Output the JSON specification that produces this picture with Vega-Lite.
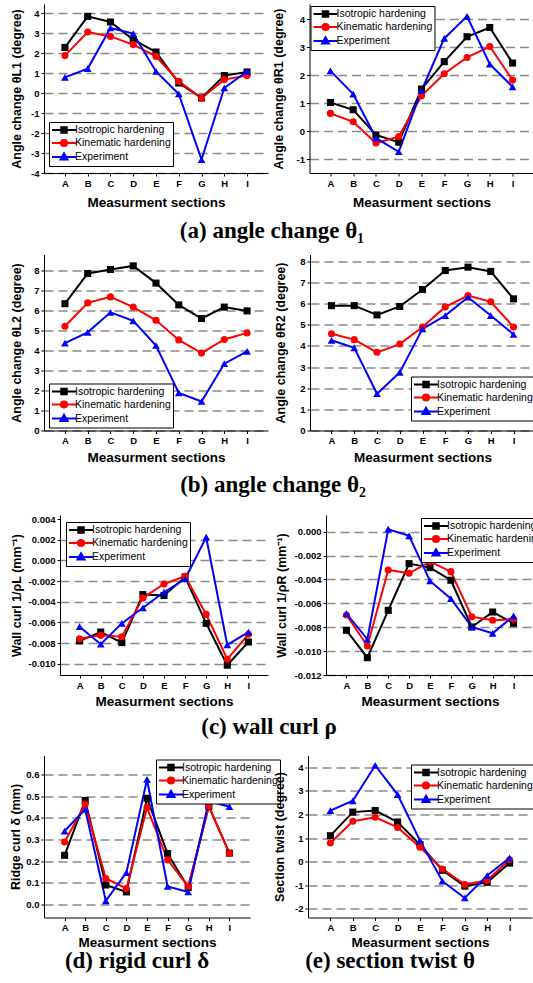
{
"$schema": "https://vega.github.io/schema/vega-lite/v6.json",
"background": "white",
"padding": {"left": 9, "top": 4, "right": 0, "bottom": 0},
"data": {"values": [
{"p":"a1","s":"Isotropic hardening","x":"A","v":2.28},{"p":"a1","s":"Isotropic hardening","x":"B","v":3.83},{"p":"a1","s":"Isotropic hardening","x":"C","v":3.55},{"p":"a1","s":"Isotropic hardening","x":"D","v":2.67},{"p":"a1","s":"Isotropic hardening","x":"E","v":2.05},{"p":"a1","s":"Isotropic hardening","x":"F","v":0.5},{"p":"a1","s":"Isotropic hardening","x":"G","v":-0.25},{"p":"a1","s":"Isotropic hardening","x":"H","v":0.87},{"p":"a1","s":"Isotropic hardening","x":"I","v":1.05},
{"p":"a1","s":"Kinematic hardening","x":"A","v":1.87},{"p":"a1","s":"Kinematic hardening","x":"B","v":3.05},{"p":"a1","s":"Kinematic hardening","x":"C","v":2.83},{"p":"a1","s":"Kinematic hardening","x":"D","v":2.42},{"p":"a1","s":"Kinematic hardening","x":"E","v":1.83},{"p":"a1","s":"Kinematic hardening","x":"F","v":0.58},{"p":"a1","s":"Kinematic hardening","x":"G","v":-0.25},{"p":"a1","s":"Kinematic hardening","x":"H","v":0.67},{"p":"a1","s":"Kinematic hardening","x":"I","v":0.87},
{"p":"a1","s":"Experiment","x":"A","v":0.78},{"p":"a1","s":"Experiment","x":"B","v":1.22},{"p":"a1","s":"Experiment","x":"C","v":3.25},{"p":"a1","s":"Experiment","x":"D","v":2.97},{"p":"a1","s":"Experiment","x":"E","v":1.08},{"p":"a1","s":"Experiment","x":"F","v":-0.05},{"p":"a1","s":"Experiment","x":"G","v":-3.33},{"p":"a1","s":"Experiment","x":"H","v":0.25},{"p":"a1","s":"Experiment","x":"I","v":1.08},
{"p":"a2","s":"Isotropic hardening","x":"A","v":1.02},{"p":"a2","s":"Isotropic hardening","x":"B","v":0.76},{"p":"a2","s":"Isotropic hardening","x":"C","v":-0.14},{"p":"a2","s":"Isotropic hardening","x":"D","v":-0.4},{"p":"a2","s":"Isotropic hardening","x":"E","v":1.5},{"p":"a2","s":"Isotropic hardening","x":"F","v":2.48},{"p":"a2","s":"Isotropic hardening","x":"G","v":3.37},{"p":"a2","s":"Isotropic hardening","x":"H","v":3.7},{"p":"a2","s":"Isotropic hardening","x":"I","v":2.43},
{"p":"a2","s":"Kinematic hardening","x":"A","v":0.63},{"p":"a2","s":"Kinematic hardening","x":"B","v":0.33},{"p":"a2","s":"Kinematic hardening","x":"C","v":-0.43},{"p":"a2","s":"Kinematic hardening","x":"D","v":-0.2},{"p":"a2","s":"Kinematic hardening","x":"E","v":1.26},{"p":"a2","s":"Kinematic hardening","x":"F","v":2.05},{"p":"a2","s":"Kinematic hardening","x":"G","v":2.63},{"p":"a2","s":"Kinematic hardening","x":"H","v":3.02},{"p":"a2","s":"Kinematic hardening","x":"I","v":1.82},
{"p":"a2","s":"Experiment","x":"A","v":2.15},{"p":"a2","s":"Experiment","x":"B","v":1.32},{"p":"a2","s":"Experiment","x":"C","v":-0.25},{"p":"a2","s":"Experiment","x":"D","v":-0.74},{"p":"a2","s":"Experiment","x":"E","v":1.44},{"p":"a2","s":"Experiment","x":"F","v":3.31},{"p":"a2","s":"Experiment","x":"G","v":4.1},{"p":"a2","s":"Experiment","x":"H","v":2.39},{"p":"a2","s":"Experiment","x":"I","v":1.58},
{"p":"b1","s":"Isotropic hardening","x":"A","v":6.34},{"p":"b1","s":"Isotropic hardening","x":"B","v":7.85},{"p":"b1","s":"Isotropic hardening","x":"C","v":8.05},{"p":"b1","s":"Isotropic hardening","x":"D","v":8.23},{"p":"b1","s":"Isotropic hardening","x":"E","v":7.37},{"p":"b1","s":"Isotropic hardening","x":"F","v":6.28},{"p":"b1","s":"Isotropic hardening","x":"G","v":5.6},{"p":"b1","s":"Isotropic hardening","x":"H","v":6.17},{"p":"b1","s":"Isotropic hardening","x":"I","v":5.98},
{"p":"b1","s":"Kinematic hardening","x":"A","v":5.21},{"p":"b1","s":"Kinematic hardening","x":"B","v":6.38},{"p":"b1","s":"Kinematic hardening","x":"C","v":6.68},{"p":"b1","s":"Kinematic hardening","x":"D","v":6.17},{"p":"b1","s":"Kinematic hardening","x":"E","v":5.51},{"p":"b1","s":"Kinematic hardening","x":"F","v":4.53},{"p":"b1","s":"Kinematic hardening","x":"G","v":3.87},{"p":"b1","s":"Kinematic hardening","x":"H","v":4.55},{"p":"b1","s":"Kinematic hardening","x":"I","v":4.88},
{"p":"b1","s":"Experiment","x":"A","v":4.37},{"p":"b1","s":"Experiment","x":"B","v":4.91},{"p":"b1","s":"Experiment","x":"C","v":5.91},{"p":"b1","s":"Experiment","x":"D","v":5.48},{"p":"b1","s":"Experiment","x":"E","v":4.25},{"p":"b1","s":"Experiment","x":"F","v":1.88},{"p":"b1","s":"Experiment","x":"G","v":1.45},{"p":"b1","s":"Experiment","x":"H","v":3.34},{"p":"b1","s":"Experiment","x":"I","v":3.96},
{"p":"b2","s":"Isotropic hardening","x":"A","v":5.91},{"p":"b2","s":"Isotropic hardening","x":"B","v":5.91},{"p":"b2","s":"Isotropic hardening","x":"C","v":5.47},{"p":"b2","s":"Isotropic hardening","x":"D","v":5.87},{"p":"b2","s":"Isotropic hardening","x":"E","v":6.67},{"p":"b2","s":"Isotropic hardening","x":"F","v":7.57},{"p":"b2","s":"Isotropic hardening","x":"G","v":7.73},{"p":"b2","s":"Isotropic hardening","x":"H","v":7.53},{"p":"b2","s":"Isotropic hardening","x":"I","v":6.23},
{"p":"b2","s":"Kinematic hardening","x":"A","v":4.58},{"p":"b2","s":"Kinematic hardening","x":"B","v":4.3},{"p":"b2","s":"Kinematic hardening","x":"C","v":3.7},{"p":"b2","s":"Kinematic hardening","x":"D","v":4.09},{"p":"b2","s":"Kinematic hardening","x":"E","v":4.9},{"p":"b2","s":"Kinematic hardening","x":"F","v":5.85},{"p":"b2","s":"Kinematic hardening","x":"G","v":6.39},{"p":"b2","s":"Kinematic hardening","x":"H","v":6.09},{"p":"b2","s":"Kinematic hardening","x":"I","v":4.9},
{"p":"b2","s":"Experiment","x":"A","v":4.27},{"p":"b2","s":"Experiment","x":"B","v":3.91},{"p":"b2","s":"Experiment","x":"C","v":1.74},{"p":"b2","s":"Experiment","x":"D","v":2.75},{"p":"b2","s":"Experiment","x":"E","v":4.81},{"p":"b2","s":"Experiment","x":"F","v":5.44},{"p":"b2","s":"Experiment","x":"G","v":6.31},{"p":"b2","s":"Experiment","x":"H","v":5.44},{"p":"b2","s":"Experiment","x":"I","v":4.55},
{"p":"c1","s":"Isotropic hardening","x":"A","v":-0.0078},{"p":"c1","s":"Isotropic hardening","x":"B","v":-0.00694},{"p":"c1","s":"Isotropic hardening","x":"C","v":-0.00796},{"p":"c1","s":"Isotropic hardening","x":"D","v":-0.00331},{"p":"c1","s":"Isotropic hardening","x":"E","v":-0.0034},{"p":"c1","s":"Isotropic hardening","x":"F","v":-0.00161},{"p":"c1","s":"Isotropic hardening","x":"G","v":-0.0061},{"p":"c1","s":"Isotropic hardening","x":"H","v":-0.01015},{"p":"c1","s":"Isotropic hardening","x":"I","v":-0.0079},
{"p":"c1","s":"Kinematic hardening","x":"A","v":-0.00758},{"p":"c1","s":"Kinematic hardening","x":"B","v":-0.00726},{"p":"c1","s":"Kinematic hardening","x":"C","v":-0.00739},{"p":"c1","s":"Kinematic hardening","x":"D","v":-0.00363},{"p":"c1","s":"Kinematic hardening","x":"E","v":-0.00228},{"p":"c1","s":"Kinematic hardening","x":"F","v":-0.00154},{"p":"c1","s":"Kinematic hardening","x":"G","v":-0.00523},{"p":"c1","s":"Kinematic hardening","x":"H","v":-0.00957},{"p":"c1","s":"Kinematic hardening","x":"I","v":-0.00716},
{"p":"c1","s":"Experiment","x":"A","v":-0.00642},{"p":"c1","s":"Experiment","x":"B","v":-0.00812},{"p":"c1","s":"Experiment","x":"C","v":-0.0061},{"p":"c1","s":"Experiment","x":"D","v":-0.00459},{"p":"c1","s":"Experiment","x":"E","v":-0.00308},{"p":"c1","s":"Experiment","x":"F","v":-0.0018},{"p":"c1","s":"Experiment","x":"G","v":0.00225},{"p":"c1","s":"Experiment","x":"H","v":-0.00819},{"p":"c1","s":"Experiment","x":"I","v":-0.00694},
{"p":"c2","s":"Isotropic hardening","x":"A","v":-0.00826},{"p":"c2","s":"Isotropic hardening","x":"B","v":-0.01055},{"p":"c2","s":"Isotropic hardening","x":"C","v":-0.00659},{"p":"c2","s":"Isotropic hardening","x":"D","v":-0.00268},{"p":"c2","s":"Isotropic hardening","x":"E","v":-0.00301},{"p":"c2","s":"Isotropic hardening","x":"F","v":-0.00407},{"p":"c2","s":"Isotropic hardening","x":"G","v":-0.00798},{"p":"c2","s":"Isotropic hardening","x":"H","v":-0.00673},{"p":"c2","s":"Isotropic hardening","x":"I","v":-0.00767},
{"p":"c2","s":"Kinematic hardening","x":"A","v":-0.00698},{"p":"c2","s":"Kinematic hardening","x":"B","v":-0.00957},{"p":"c2","s":"Kinematic hardening","x":"C","v":-0.00321},{"p":"c2","s":"Kinematic hardening","x":"D","v":-0.00349},{"p":"c2","s":"Kinematic hardening","x":"E","v":-0.00251},{"p":"c2","s":"Kinematic hardening","x":"F","v":-0.00335},{"p":"c2","s":"Kinematic hardening","x":"G","v":-0.00712},{"p":"c2","s":"Kinematic hardening","x":"H","v":-0.00742},{"p":"c2","s":"Kinematic hardening","x":"I","v":-0.00734},
{"p":"c2","s":"Experiment","x":"A","v":-0.00687},{"p":"c2","s":"Experiment","x":"B","v":-0.00901},{"p":"c2","s":"Experiment","x":"C","v":0.0002},{"p":"c2","s":"Experiment","x":"D","v":-0.00036},{"p":"c2","s":"Experiment","x":"E","v":-0.00413},{"p":"c2","s":"Experiment","x":"F","v":-0.00561},{"p":"c2","s":"Experiment","x":"G","v":-0.00798},{"p":"c2","s":"Experiment","x":"H","v":-0.00851},{"p":"c2","s":"Experiment","x":"I","v":-0.00706},
{"p":"d","s":"Isotropic hardening","x":"A","v":0.227},{"p":"d","s":"Isotropic hardening","x":"B","v":0.48},{"p":"d","s":"Isotropic hardening","x":"C","v":0.09},{"p":"d","s":"Isotropic hardening","x":"D","v":0.058},{"p":"d","s":"Isotropic hardening","x":"E","v":0.49},{"p":"d","s":"Isotropic hardening","x":"F","v":0.235},{"p":"d","s":"Isotropic hardening","x":"G","v":0.078},{"p":"d","s":"Isotropic hardening","x":"H","v":0.453},{"p":"d","s":"Isotropic hardening","x":"I","v":0.237},
{"p":"d","s":"Kinematic hardening","x":"A","v":0.288},{"p":"d","s":"Kinematic hardening","x":"B","v":0.462},{"p":"d","s":"Kinematic hardening","x":"C","v":0.12},{"p":"d","s":"Kinematic hardening","x":"D","v":0.074},{"p":"d","s":"Kinematic hardening","x":"E","v":0.447},{"p":"d","s":"Kinematic hardening","x":"F","v":0.206},{"p":"d","s":"Kinematic hardening","x":"G","v":0.083},{"p":"d","s":"Kinematic hardening","x":"H","v":0.454},{"p":"d","s":"Kinematic hardening","x":"I","v":0.236},
{"p":"d","s":"Experiment","x":"A","v":0.339},{"p":"d","s":"Experiment","x":"B","v":0.439},{"p":"d","s":"Experiment","x":"C","v":0.017},{"p":"d","s":"Experiment","x":"D","v":0.147},{"p":"d","s":"Experiment","x":"E","v":0.577},{"p":"d","s":"Experiment","x":"F","v":0.083},{"p":"d","s":"Experiment","x":"G","v":0.058},{"p":"d","s":"Experiment","x":"H","v":0.477},{"p":"d","s":"Experiment","x":"I","v":0.451},
{"p":"e","s":"Isotropic hardening","x":"A","v":1.1},{"p":"e","s":"Isotropic hardening","x":"B","v":2.1},{"p":"e","s":"Isotropic hardening","x":"C","v":2.17},{"p":"e","s":"Isotropic hardening","x":"D","v":1.68},{"p":"e","s":"Isotropic hardening","x":"E","v":0.72},{"p":"e","s":"Isotropic hardening","x":"F","v":-0.37},{"p":"e","s":"Isotropic hardening","x":"G","v":-1.04},{"p":"e","s":"Isotropic hardening","x":"H","v":-0.88},{"p":"e","s":"Isotropic hardening","x":"I","v":-0.06},
{"p":"e","s":"Kinematic hardening","x":"A","v":0.79},{"p":"e","s":"Kinematic hardening","x":"B","v":1.71},{"p":"e","s":"Kinematic hardening","x":"C","v":1.88},{"p":"e","s":"Kinematic hardening","x":"D","v":1.45},{"p":"e","s":"Kinematic hardening","x":"E","v":0.61},{"p":"e","s":"Kinematic hardening","x":"F","v":-0.31},{"p":"e","s":"Kinematic hardening","x":"G","v":-0.97},{"p":"e","s":"Kinematic hardening","x":"H","v":-0.79},{"p":"e","s":"Kinematic hardening","x":"I","v":0.08},
{"p":"e","s":"Experiment","x":"A","v":2.16},{"p":"e","s":"Experiment","x":"B","v":2.58},{"p":"e","s":"Experiment","x":"C","v":4.08},{"p":"e","s":"Experiment","x":"D","v":2.84},{"p":"e","s":"Experiment","x":"E","v":0.89},{"p":"e","s":"Experiment","x":"F","v":-0.83},{"p":"e","s":"Experiment","x":"G","v":-1.54},{"p":"e","s":"Experiment","x":"H","v":-0.59},{"p":"e","s":"Experiment","x":"I","v":0.16}
]},
"config": {
 "font": "Liberation Sans",
 "view": {"stroke": null},
 "axis": {"labelFont": "Liberation Sans", "labelFontWeight": "bold", "labelFontSize": 9.5, "labelColor": "#000", "titleFont": "Liberation Sans", "titleFontWeight": "bold", "titleColor": "#000", "domainColor": "#000", "domainWidth": 1, "tickColor": "#000", "tickSize": 3, "tickWidth": 1, "labelPadding": 2},
 "axisX": {"grid": false, "labelAngle": 0, "titleFontSize": 13.5},
 "axisY": {"grid": true, "gridColor": "#8a8a8a", "gridDash": [9, 5], "gridWidth": 1.3, "titleFontSize": 12.5, "labelExpr": "replace(datum.label, '−', '-')"},
 "legend": {"orient": "none", "labelFont": "Liberation Sans", "labelFontSize": 10.5, "labelColor": "#000", "strokeColor": "#000", "fillColor": "#fff", "padding": 2, "symbolSize": 100, "symbolStrokeWidth": 2, "symbolOffset": 7, "labelOffset": 5, "rowPadding": -4},
 "title": {"font": "Liberation Serif", "fontWeight": "bold", "fontSize": 23, "color": "#000", "orient": "bottom", "anchor": "middle"},
 "line": {"strokeWidth": 2},
 "point": {"filled": true, "size": 50, "opacity": 1}
},
"columns": 1,
"align": "none",
"bounds": "full",
"spacing": {"row": 10.5, "column": 0},
"resolve": {"scale": {"color": "independent", "x": "independent", "y": "independent"}, "legend": {"color": "independent"}},
"concat": [
 {"bounds": "full", "spacing": 4.5,
  "title": {"text": "(a) angle change θ₁", "offset": 11.25},
  "resolve": {"scale": {"color": "independent", "x": "independent", "y": "independent"}, "legend": {"color": "independent"}},
  "hconcat": [
   {"width": 224, "height": 169, "transform": [{"filter": "datum.p === 'a1'"}],
    "encoding": {
     "x": {"field": "x", "type": "ordinal", "scale": {"type": "point", "padding": 0.92}, "axis": {"title": "Measurment sections", "titlePadding": 8}},
     "y": {"field": "v", "type": "quantitative", "scale": {"domain": [-4, 4.45], "nice": false, "zero": false}, "axis": {"values": [-4,-3,-2,-1,0,1,2,3,4], "format": "d", "title": "Angle change θL1 (degree)", "minExtent": 13.5, "maxExtent": 13.5, "titlePadding": 7}},
     "color": {"field": "s", "type": "nominal", "scale": {"domain": ["Isotropic hardening","Kinematic hardening","Experiment"], "range": ["#000000","#ff0000","#0000ff"]}, "legend": {"title": null, "orient": "none", "legendX": 5, "legendY": 118, "encode": {"symbols": {"update": {"shape": {"signal": "datum.value === 'Isotropic hardening' ? 'M-2.4,0H2.4M-0.55,-0.55H0.55V0.55H-0.55Z' : datum.value === 'Kinematic hardening' ? 'M-2.4,0H2.4M0.62,0A0.62,0.62,0,1,1,-0.62,0A0.62,0.62,0,1,1,0.62,0Z' : 'M-2.4,0H2.4M0,-0.75L0.7,0.5L-0.7,0.5Z'"}, "stroke": {"signal": "datum.value === 'Isotropic hardening' ? '#000000' : datum.value === 'Kinematic hardening' ? '#ff0000' : '#0000ff'"}, "fill": {"signal": "datum.value === 'Isotropic hardening' ? '#000000' : datum.value === 'Kinematic hardening' ? '#ff0000' : '#0000ff'"}, "strokeWidth": {"value": 2}}}}}}
    },
    "layer": [
     {"mark": "line", "encoding": {}},
     {"transform": [{"filter": "datum.s === 'Isotropic hardening'"}], "mark": {"type": "point", "shape": "square"}, "encoding": {}},
     {"transform": [{"filter": "datum.s === 'Kinematic hardening'"}], "mark": {"type": "point", "shape": "circle"}, "encoding": {}},
     {"transform": [{"filter": "datum.s === 'Experiment'"}], "mark": {"type": "point", "shape": "triangle-up", "size": 60}, "encoding": {}}
    ]
   },
   {"width": 224, "height": 169, "transform": [{"filter": "datum.p === 'a2'"}],
    "encoding": {
     "x": {"field": "x", "type": "ordinal", "scale": {"type": "point", "padding": 0.92}, "axis": {"title": "Measurment sections", "titlePadding": 8}},
     "y": {"field": "v", "type": "quantitative", "scale": {"domain": [-1.5, 4.54], "nice": false, "zero": false}, "axis": {"values": [-1,0,1,2,3,4], "format": "d", "title": "Angle change θR1 (degree)", "minExtent": 15, "maxExtent": 15, "titlePadding": 9}},
     "color": {"field": "s", "type": "nominal", "scale": {"domain": ["Isotropic hardening","Kinematic hardening","Experiment"], "range": ["#000000","#ff0000","#0000ff"]}, "legend": {"title": null, "orient": "none", "legendX": 1, "legendY": 2, "encode": {"symbols": {"update": {"shape": {"signal": "datum.value === 'Isotropic hardening' ? 'M-2.4,0H2.4M-0.55,-0.55H0.55V0.55H-0.55Z' : datum.value === 'Kinematic hardening' ? 'M-2.4,0H2.4M0.62,0A0.62,0.62,0,1,1,-0.62,0A0.62,0.62,0,1,1,0.62,0Z' : 'M-2.4,0H2.4M0,-0.75L0.7,0.5L-0.7,0.5Z'"}, "stroke": {"signal": "datum.value === 'Isotropic hardening' ? '#000000' : datum.value === 'Kinematic hardening' ? '#ff0000' : '#0000ff'"}, "fill": {"signal": "datum.value === 'Isotropic hardening' ? '#000000' : datum.value === 'Kinematic hardening' ? '#ff0000' : '#0000ff'"}, "strokeWidth": {"value": 2}}}}}}
    },
    "layer": [
     {"mark": "line", "encoding": {}},
     {"transform": [{"filter": "datum.s === 'Isotropic hardening'"}], "mark": {"type": "point", "shape": "square"}, "encoding": {}},
     {"transform": [{"filter": "datum.s === 'Kinematic hardening'"}], "mark": {"type": "point", "shape": "circle"}, "encoding": {}},
     {"transform": [{"filter": "datum.s === 'Experiment'"}], "mark": {"type": "point", "shape": "triangle-up", "size": 60}, "encoding": {}}
    ]
   }
  ]
 },
 {"bounds": "full", "spacing": 6,
  "title": {"text": "(b) angle change θ₂", "offset": 10.5, "subtitle": " ", "subtitleFontSize": 2, "subtitlePadding": 4},
  "resolve": {"scale": {"color": "independent", "x": "independent", "y": "independent"}, "legend": {"color": "independent"}},
  "hconcat": [
   {"width": 224, "height": 176, "transform": [{"filter": "datum.p === 'b1'"}],
    "encoding": {
     "x": {"field": "x", "type": "ordinal", "scale": {"type": "point", "padding": 0.92}, "axis": {"title": "Measurment sections", "titlePadding": 5}},
     "y": {"field": "v", "type": "quantitative", "scale": {"domain": [0, 8.8], "nice": false, "zero": false}, "axis": {"values": [0,1,2,3,4,5,6,7,8], "format": "d", "title": "Angle change θL2 (degree)", "minExtent": 13.5, "maxExtent": 13.5, "titlePadding": 7}},
     "color": {"field": "s", "type": "nominal", "scale": {"domain": ["Isotropic hardening","Kinematic hardening","Experiment"], "range": ["#000000","#ff0000","#0000ff"]}, "legend": {"title": null, "orient": "none", "legendX": 5, "legendY": 129, "encode": {"symbols": {"update": {"shape": {"signal": "datum.value === 'Isotropic hardening' ? 'M-2.4,0H2.4M-0.55,-0.55H0.55V0.55H-0.55Z' : datum.value === 'Kinematic hardening' ? 'M-2.4,0H2.4M0.62,0A0.62,0.62,0,1,1,-0.62,0A0.62,0.62,0,1,1,0.62,0Z' : 'M-2.4,0H2.4M0,-0.75L0.7,0.5L-0.7,0.5Z'"}, "stroke": {"signal": "datum.value === 'Isotropic hardening' ? '#000000' : datum.value === 'Kinematic hardening' ? '#ff0000' : '#0000ff'"}, "fill": {"signal": "datum.value === 'Isotropic hardening' ? '#000000' : datum.value === 'Kinematic hardening' ? '#ff0000' : '#0000ff'"}, "strokeWidth": {"value": 2}}}}}}
    },
    "layer": [
     {"mark": "line", "encoding": {}},
     {"transform": [{"filter": "datum.s === 'Isotropic hardening'"}], "mark": {"type": "point", "shape": "square"}, "encoding": {}},
     {"transform": [{"filter": "datum.s === 'Kinematic hardening'"}], "mark": {"type": "point", "shape": "circle"}, "encoding": {}},
     {"transform": [{"filter": "datum.s === 'Experiment'"}], "mark": {"type": "point", "shape": "triangle-up", "size": 60}, "encoding": {}}
    ]
   },
   {"width": 225, "height": 176, "transform": [{"filter": "datum.p === 'b2'"}],
    "encoding": {
     "x": {"field": "x", "type": "ordinal", "scale": {"type": "point", "padding": 0.945}, "axis": {"title": "Measurment sections", "titlePadding": 5}},
     "y": {"field": "v", "type": "quantitative", "scale": {"domain": [0, 8.33], "nice": false, "zero": false}, "axis": {"values": [0,1,2,3,4,5,6,7,8], "format": "d", "title": "Angle change θR2 (degree)", "minExtent": 14, "maxExtent": 14, "titlePadding": 9}},
     "color": {"field": "s", "type": "nominal", "scale": {"domain": ["Isotropic hardening","Kinematic hardening","Experiment"], "range": ["#000000","#ff0000","#0000ff"]}, "legend": {"title": null, "orient": "none", "legendX": 101, "legendY": 122, "encode": {"symbols": {"update": {"shape": {"signal": "datum.value === 'Isotropic hardening' ? 'M-2.4,0H2.4M-0.55,-0.55H0.55V0.55H-0.55Z' : datum.value === 'Kinematic hardening' ? 'M-2.4,0H2.4M0.62,0A0.62,0.62,0,1,1,-0.62,0A0.62,0.62,0,1,1,0.62,0Z' : 'M-2.4,0H2.4M0,-0.75L0.7,0.5L-0.7,0.5Z'"}, "stroke": {"signal": "datum.value === 'Isotropic hardening' ? '#000000' : datum.value === 'Kinematic hardening' ? '#ff0000' : '#0000ff'"}, "fill": {"signal": "datum.value === 'Isotropic hardening' ? '#000000' : datum.value === 'Kinematic hardening' ? '#ff0000' : '#0000ff'"}, "strokeWidth": {"value": 2}}}}}}
    },
    "layer": [
     {"mark": "line", "encoding": {}},
     {"transform": [{"filter": "datum.s === 'Isotropic hardening'"}], "mark": {"type": "point", "shape": "square"}, "encoding": {}},
     {"transform": [{"filter": "datum.s === 'Kinematic hardening'"}], "mark": {"type": "point", "shape": "circle"}, "encoding": {}},
     {"transform": [{"filter": "datum.s === 'Experiment'"}], "mark": {"type": "point", "shape": "triangle-up", "size": 60}, "encoding": {}}
    ]
   }
  ]
 },
 {"bounds": "full", "spacing": -35,
  "title": {"text": "(c) wall curl ρ", "offset": 8, "dx": -9, "subtitle": " ", "subtitleFontSize": 2, "subtitlePadding": 4},
  "resolve": {"scale": {"color": "independent", "x": "independent", "y": "independent"}, "legend": {"color": "independent"}},
  "hconcat": [
   {"width": 1, "height": 1, "transform": [{"filter": "false"}], "mark": "point"},
   {"bounds": "full", "spacing": 7,
    "resolve": {"scale": {"color": "independent", "x": "independent", "y": "independent"}, "legend": {"color": "independent"}},
    "hconcat": [
   {"width": 208, "height": 160, "transform": [{"filter": "datum.p === 'c1'"}],
    "encoding": {
     "x": {"field": "x", "type": "ordinal", "scale": {"type": "point", "padding": 0.93}, "axis": {"title": "Measurment sections", "titlePadding": 5}},
     "y": {"field": "v", "type": "quantitative", "scale": {"domain": [-0.0111, 0.0044], "nice": false, "zero": false}, "axis": {"values": [-0.01,-0.008,-0.006,-0.004,-0.002,0,0.002,0.004], "format": ".3f", "title": "Wall curl 1/ρL (mm⁻¹)", "minExtent": 29.5, "maxExtent": 29.5, "titlePadding": 7, "gridOpacity": {"condition": {"test": "datum.value > 0.003", "value": 0}, "value": 1}}},
     "color": {"field": "s", "type": "nominal", "scale": {"domain": ["Isotropic hardening","Kinematic hardening","Experiment"], "range": ["#000000","#ff0000","#0000ff"]}, "legend": {"title": null, "orient": "none", "legendX": 6, "legendY": 7, "encode": {"symbols": {"update": {"shape": {"signal": "datum.value === 'Isotropic hardening' ? 'M-2.4,0H2.4M-0.55,-0.55H0.55V0.55H-0.55Z' : datum.value === 'Kinematic hardening' ? 'M-2.4,0H2.4M0.62,0A0.62,0.62,0,1,1,-0.62,0A0.62,0.62,0,1,1,0.62,0Z' : 'M-2.4,0H2.4M0,-0.75L0.7,0.5L-0.7,0.5Z'"}, "stroke": {"signal": "datum.value === 'Isotropic hardening' ? '#000000' : datum.value === 'Kinematic hardening' ? '#ff0000' : '#0000ff'"}, "fill": {"signal": "datum.value === 'Isotropic hardening' ? '#000000' : datum.value === 'Kinematic hardening' ? '#ff0000' : '#0000ff'"}, "strokeWidth": {"value": 2}}}}}}
    },
    "layer": [
     {"mark": "line", "encoding": {}},
     {"transform": [{"filter": "datum.s === 'Isotropic hardening'"}], "mark": {"type": "point", "shape": "square"}, "encoding": {}},
     {"transform": [{"filter": "datum.s === 'Kinematic hardening'"}], "mark": {"type": "point", "shape": "circle"}, "encoding": {}},
     {"transform": [{"filter": "datum.s === 'Experiment'"}], "mark": {"type": "point", "shape": "triangle-up", "size": 60}, "encoding": {}}
    ]
   },
   {"width": 208, "height": 160, "transform": [{"filter": "datum.p === 'c2'"}],
    "encoding": {
     "x": {"field": "x", "type": "ordinal", "scale": {"type": "point", "padding": 0.98}, "axis": {"title": "Measurment sections", "titlePadding": 5}},
     "y": {"field": "v", "type": "quantitative", "scale": {"domain": [-0.012, 0.00139], "nice": false, "zero": false}, "axis": {"values": [-0.012,-0.01,-0.008,-0.006,-0.004,-0.002,0], "format": ".3f", "title": "Wall curl 1/ρR (mm⁻¹)", "minExtent": 31, "maxExtent": 31, "titlePadding": 6.5}},
     "color": {"field": "s", "type": "nominal", "scale": {"domain": ["Isotropic hardening","Kinematic hardening","Experiment"], "range": ["#000000","#ff0000","#0000ff"]}, "legend": {"title": null, "orient": "none", "legendX": 95, "legendY": 3, "encode": {"symbols": {"update": {"shape": {"signal": "datum.value === 'Isotropic hardening' ? 'M-2.4,0H2.4M-0.55,-0.55H0.55V0.55H-0.55Z' : datum.value === 'Kinematic hardening' ? 'M-2.4,0H2.4M0.62,0A0.62,0.62,0,1,1,-0.62,0A0.62,0.62,0,1,1,0.62,0Z' : 'M-2.4,0H2.4M0,-0.75L0.7,0.5L-0.7,0.5Z'"}, "stroke": {"signal": "datum.value === 'Isotropic hardening' ? '#000000' : datum.value === 'Kinematic hardening' ? '#ff0000' : '#0000ff'"}, "fill": {"signal": "datum.value === 'Isotropic hardening' ? '#000000' : datum.value === 'Kinematic hardening' ? '#ff0000' : '#0000ff'"}, "strokeWidth": {"value": 2}}}}}}
    },
    "layer": [
     {"mark": "line", "encoding": {}},
     {"transform": [{"filter": "datum.s === 'Isotropic hardening'"}], "mark": {"type": "point", "shape": "square"}, "encoding": {}},
     {"transform": [{"filter": "datum.s === 'Kinematic hardening'"}], "mark": {"type": "point", "shape": "circle"}, "encoding": {}},
     {"transform": [{"filter": "datum.s === 'Experiment'"}], "mark": {"type": "point", "shape": "triangle-up", "size": 60}, "encoding": {}}
    ]
   }
    ]
   }
  ]
 },
 {"bounds": "flush", "spacing": 58,
  "resolve": {"scale": {"color": "independent", "x": "independent", "y": "independent"}, "legend": {"color": "independent"}},
  "hconcat": [
   {"width": 206, "height": 162, "transform": [{"filter": "datum.p === 'd'"}],
    "title": {"text": "(d) rigid curl δ", "offset": 1.5, "frame": "group", "dx": -10},
    "encoding": {
     "x": {"field": "x", "type": "ordinal", "scale": {"type": "point", "padding": 1}, "axis": {"title": "Measurment sections", "titlePadding": 3}},
     "y": {"field": "v", "type": "quantitative", "scale": {"domain": [-0.06, 0.6875], "nice": false, "zero": false}, "axis": {"values": [0,0.1,0.2,0.3,0.4,0.5,0.6], "format": ".1f", "title": "Ridge curl δ (mm)", "minExtent": 14.5, "maxExtent": 14.5, "titlePadding": 7}},
     "color": {"field": "s", "type": "nominal", "scale": {"domain": ["Isotropic hardening","Kinematic hardening","Experiment"], "range": ["#000000","#ff0000","#0000ff"]}, "legend": {"title": null, "orient": "none", "legendX": 112, "legendY": 4, "encode": {"symbols": {"update": {"shape": {"signal": "datum.value === 'Isotropic hardening' ? 'M-2.4,0H2.4M-0.55,-0.55H0.55V0.55H-0.55Z' : datum.value === 'Kinematic hardening' ? 'M-2.4,0H2.4M0.62,0A0.62,0.62,0,1,1,-0.62,0A0.62,0.62,0,1,1,0.62,0Z' : 'M-2.4,0H2.4M0,-0.75L0.7,0.5L-0.7,0.5Z'"}, "stroke": {"signal": "datum.value === 'Isotropic hardening' ? '#000000' : datum.value === 'Kinematic hardening' ? '#ff0000' : '#0000ff'"}, "fill": {"signal": "datum.value === 'Isotropic hardening' ? '#000000' : datum.value === 'Kinematic hardening' ? '#ff0000' : '#0000ff'"}, "strokeWidth": {"value": 2}}}}}}
    },
    "layer": [
     {"mark": "line", "encoding": {}},
     {"transform": [{"filter": "datum.s === 'Isotropic hardening'"}], "mark": {"type": "point", "shape": "square"}, "encoding": {}},
     {"transform": [{"filter": "datum.s === 'Kinematic hardening'"}], "mark": {"type": "point", "shape": "circle"}, "encoding": {}},
     {"transform": [{"filter": "datum.s === 'Experiment'"}], "mark": {"type": "point", "shape": "triangle-up", "size": 60}, "encoding": {}}
    ]
   },
   {"width": 224, "height": 162, "transform": [{"filter": "datum.p === 'e'"}],
    "title": {"text": "(e) section twist θ", "offset": 1.5, "frame": "group", "dx": -30},
    "encoding": {
     "x": {"field": "x", "type": "ordinal", "scale": {"type": "point", "padding": 1}, "axis": {"title": "Measurment sections", "titlePadding": 3}},
     "y": {"field": "v", "type": "quantitative", "scale": {"domain": [-2.37, 4.5], "nice": false, "zero": false}, "axis": {"values": [-2,-1,0,1,2,3,4], "format": "d", "title": "Section twist (degree)", "minExtent": 14, "maxExtent": 14, "titlePadding": 7.5}},
     "color": {"field": "s", "type": "nominal", "scale": {"domain": ["Isotropic hardening","Kinematic hardening","Experiment"], "range": ["#000000","#ff0000","#0000ff"]}, "legend": {"title": null, "orient": "none", "legendX": 103, "legendY": 9, "encode": {"symbols": {"update": {"shape": {"signal": "datum.value === 'Isotropic hardening' ? 'M-2.4,0H2.4M-0.55,-0.55H0.55V0.55H-0.55Z' : datum.value === 'Kinematic hardening' ? 'M-2.4,0H2.4M0.62,0A0.62,0.62,0,1,1,-0.62,0A0.62,0.62,0,1,1,0.62,0Z' : 'M-2.4,0H2.4M0,-0.75L0.7,0.5L-0.7,0.5Z'"}, "stroke": {"signal": "datum.value === 'Isotropic hardening' ? '#000000' : datum.value === 'Kinematic hardening' ? '#ff0000' : '#0000ff'"}, "fill": {"signal": "datum.value === 'Isotropic hardening' ? '#000000' : datum.value === 'Kinematic hardening' ? '#ff0000' : '#0000ff'"}, "strokeWidth": {"value": 2}}}}}}
    },
    "layer": [
     {"mark": "line", "encoding": {}},
     {"transform": [{"filter": "datum.s === 'Isotropic hardening'"}], "mark": {"type": "point", "shape": "square"}, "encoding": {}},
     {"transform": [{"filter": "datum.s === 'Kinematic hardening'"}], "mark": {"type": "point", "shape": "circle"}, "encoding": {}},
     {"transform": [{"filter": "datum.s === 'Experiment'"}], "mark": {"type": "point", "shape": "triangle-up", "size": 60}, "encoding": {}}
    ]
   }
  ]
 }
]
}
